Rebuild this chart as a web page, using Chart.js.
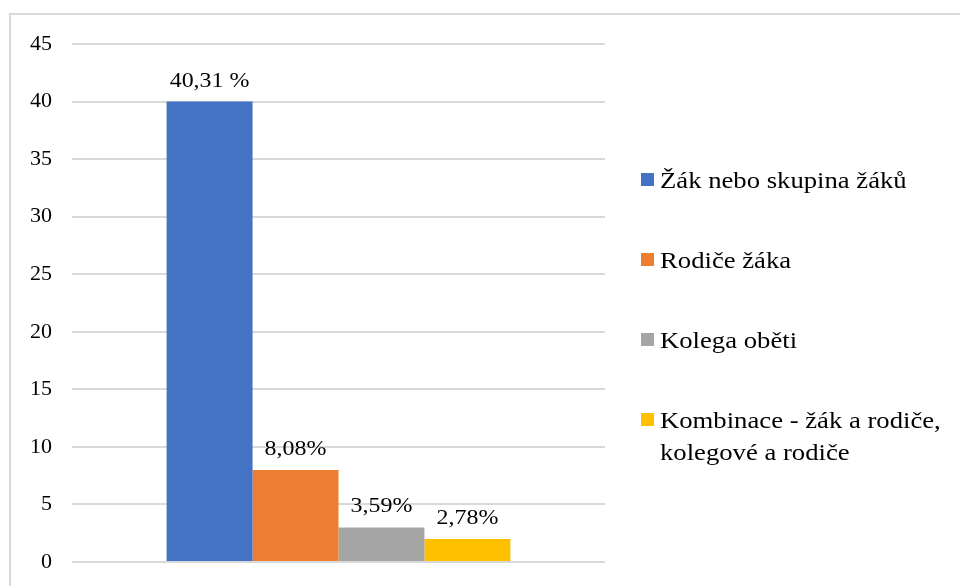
<!DOCTYPE html>
<html>
<head>
<meta charset="utf-8">
<script src="https://cdn.jsdelivr.net/npm/chart.js@4/dist/chart.umd.min.js"></script>
<style>
    html, body { margin: 0; padding: 0; background: #ffffff; }
    #wrap { position: relative; width: 960px; height: 586px; overflow: hidden; }
    #frame {
        position: absolute; left: 9px; top: 13px; right: -10px; bottom: -10px;
        border-top: 2px solid #d9d9d9; border-left: 2px solid #d9d9d9;
    }
    #chart { position: absolute; left: 0; top: 0; }
</style>
</head>
<body>
<div id="wrap">
    <div id="frame"></div>
    <canvas id="chart" width="960" height="586"></canvas>
</div>
<script>
    /* Data */
    const categories = [''];
    const seriesNames = [
        'Žák nebo skupina žáků',
        'Rodiče žáka',
        'Kolega oběti',
        'Kombinace - žák a rodiče, kolegové a rodiče',
    ];
    const legendLines = [
        ['Žák nebo skupina žáků'],
        ['Rodiče žáka'],
        ['Kolega oběti'],
        ['Kombinace - žák a rodiče,', 'kolegové a rodiče'],
    ];
    const seriesValues = [40, 8, 3, 2];
    const valueLabels = ['40,31 %', '8,08%', '3,59%', '2,78%'];
    const yTicks = [0, 5, 10, 15, 20, 25, 30, 35, 40, 45];

    /* Colours */
    const colors = ['#4472C4', '#ED7D31', '#A5A5A5', '#FFC000'];
    const serif = "'Liberation Serif', 'Times New Roman', serif";

    // draw text slightly widened like the source picture
    function wideText(ctx, text, x, y, sx) {
        ctx.save();
        ctx.translate(x, y);
        ctx.scale(sx, 1);
        ctx.fillText(text, 0, 0);
        ctx.restore();
    }

    const valueLabelPlugin = {
        id: 'valueLabels',
        afterDatasetsDraw(chart) {
            const ctx = chart.ctx;
            ctx.save();
            ctx.font = '21px ' + serif;
            ctx.fillStyle = '#000000';
            ctx.textAlign = 'center';
            ctx.textBaseline = 'alphabetic';
            chart.data.datasets.forEach((ds, i) => {
                const bar = chart.getDatasetMeta(i).data[0];
                wideText(ctx, valueLabels[i], bar.x, bar.y - 15, 1.14);
            });
            ctx.restore();
        },
    };

    const sideLegendPlugin = {
        id: 'sideLegend',
        afterDraw(chart) {
            const ctx = chart.ctx;
            const baselines = [188, 268, 348, 428];
            ctx.save();
            ctx.font = '23px ' + serif;
            ctx.textAlign = 'left';
            ctx.textBaseline = 'alphabetic';
            legendLines.forEach((lines, i) => {
                const base = baselines[i];
                ctx.fillStyle = colors[i];
                ctx.fillRect(641, base - 15, 13, 13);
                ctx.fillStyle = '#000000';
                lines.forEach((line, j) => {
                    wideText(ctx, line, 660, base + j * 32, 1.16);
                });
            });
            ctx.restore();
        },
    };

    new Chart(document.getElementById('chart'), {
        type: 'bar',
        data: {
            labels: categories,
            datasets: seriesNames.map((name, i) => ({
                label: name,
                data: [seriesValues[i]],
                backgroundColor: colors[i],
                borderWidth: 0,
            })),
        },
        options: {
            responsive: false,
            animation: false,
            layout: {
                padding: { top: 44, bottom: 24, left: 0, right: 355 },
            },
            datasets: {
                bar: {
                    categoryPercentage: 0.645,
                    barPercentage: 1,
                },
            },
            scales: {
                x: {
                    display: false,
                },
                y: {
                    min: 0,
                    max: 45,
                    afterFit(scale) {
                        // fixed axis width; tick padding should not eat vertical room
                        scale.width = 72;
                        scale.paddingTop = 0;
                        scale.paddingBottom = 0;
                    },
                    afterBuildTicks(scale) {
                        scale.ticks = yTicks.map((v) => ({ value: v }));
                    },
                    border: {
                        display: false,
                    },
                    grid: {
                        color: '#d9d9d9',
                        lineWidth: 2,
                        drawTicks: false,
                    },
                    ticks: {
                        padding: 20,
                        color: '#000000',
                        font: {
                            family: serif,
                            size: 22,
                        },
                    },
                },
            },
            plugins: {
                legend: { display: false },
                tooltip: { enabled: false },
            },
        },
        plugins: [valueLabelPlugin, sideLegendPlugin],
    });
</script>
</body>
</html>
